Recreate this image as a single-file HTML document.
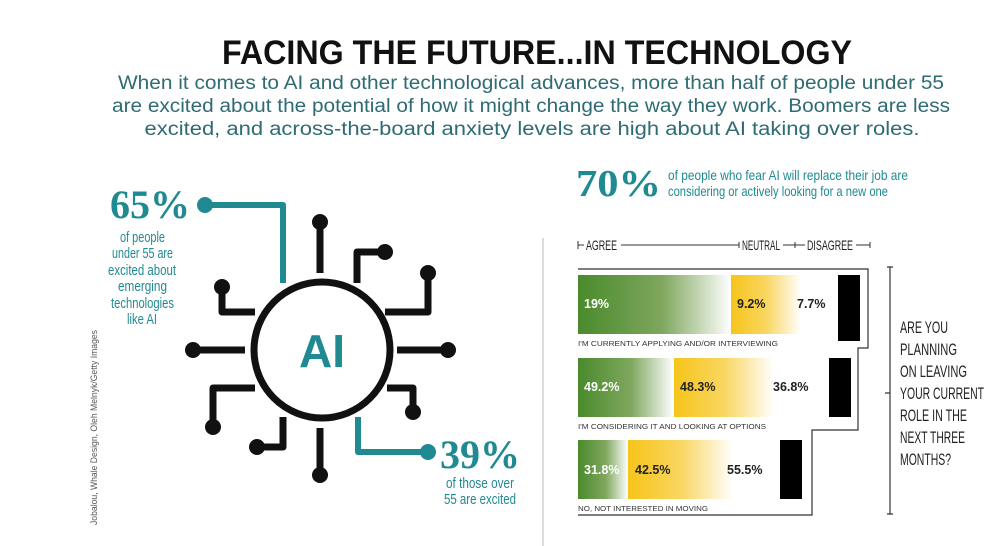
<!DOCTYPE html>
<html><head><meta charset="utf-8"><style>
html,body{margin:0;padding:0;background:#fff}
svg{display:block}
.n{font-family:"Liberation Sans",sans-serif}
</style></head><body>
<svg width="1000" height="546" viewBox="0 0 1000 546" xmlns="http://www.w3.org/2000/svg">
<defs>
<linearGradient id="g" x1="0" x2="1"><stop offset="0" stop-color="#4a8a2c"/><stop offset="0.55" stop-color="#7fa75e"/><stop offset="1" stop-color="#fff"/></linearGradient>
<linearGradient id="y" x1="0" x2="1"><stop offset="0" stop-color="#f6c41a"/><stop offset="0.5" stop-color="#f9d660"/><stop offset="1" stop-color="#fff"/></linearGradient>
</defs>
<text x="537" y="64" text-anchor="middle" font-family="Liberation Sans,sans-serif" font-weight="bold" font-size="34" textLength="630" lengthAdjust="spacingAndGlyphs" fill="#111">FACING THE FUTURE...IN TECHNOLOGY</text>
<g font-family="Liberation Sans,sans-serif" font-size="19" fill="#2e6b73" text-anchor="middle">
<text x="531" y="89" textLength="826" lengthAdjust="spacingAndGlyphs">When it comes to AI and other technological advances, more than half of people under 55</text>
<text x="531" y="112" textLength="838" lengthAdjust="spacingAndGlyphs">are excited about the potential of how it might change the way they work. Boomers are less</text>
<text x="532" y="135" textLength="775" lengthAdjust="spacingAndGlyphs">excited, and across-the-board anxiety levels are high about AI taking over roles.</text>
</g>
<g stroke="#111" stroke-width="7" fill="none" stroke-linejoin="round">
<circle cx="322" cy="350" r="68"/>
<path d="M320 222V273M193 350H245M397 350H448M320 428V475"/>
<path d="M222 287V312H255M357 283V252H385M428 273V312H385"/>
<path d="M255 388H213V427M283 417V447H257M387 388H413V412"/>
</g>
<g fill="#111">
<circle cx="320" cy="222" r="8"/><circle cx="193" cy="350" r="8"/><circle cx="448" cy="350" r="8"/><circle cx="320" cy="475" r="8"/>
<circle cx="222" cy="287" r="8"/><circle cx="385" cy="252" r="8"/><circle cx="428" cy="273" r="8"/>
<circle cx="213" cy="427" r="8"/><circle cx="257" cy="447" r="8"/><circle cx="413" cy="412" r="8"/>
</g>
<g stroke="#1f8a91" stroke-width="6" fill="none" stroke-linejoin="round">
<path d="M205 205H283V283M358 417V452H428"/>
</g>
<g fill="#1f8a91"><circle cx="205" cy="205" r="8"/><circle cx="428" cy="452" r="8"/></g>
<text x="322" y="367" text-anchor="middle" font-family="Liberation Sans,sans-serif" font-weight="bold" font-size="46" fill="#1f8a91">AI</text>
<text x="110" y="218" font-family="Liberation Serif,serif" font-weight="bold" font-size="40" fill="#1f8a91" textLength="80" lengthAdjust="spacingAndGlyphs">65%</text>
<g class="n" font-size="15" fill="#1f8a91" lengthAdjust="spacingAndGlyphs">
<text x="120" y="242" textLength="45" lengthAdjust="spacingAndGlyphs">of people</text>
<text x="112" y="258" textLength="61" lengthAdjust="spacingAndGlyphs">under 55 are</text>
<text x="108" y="275" textLength="68" lengthAdjust="spacingAndGlyphs">excited about</text>
<text x="118" y="291" textLength="49" lengthAdjust="spacingAndGlyphs">emerging</text>
<text x="111" y="308" textLength="63" lengthAdjust="spacingAndGlyphs">technologies</text>
<text x="127" y="324" textLength="30" lengthAdjust="spacingAndGlyphs">like AI</text>
<text x="446" y="488" textLength="68" lengthAdjust="spacingAndGlyphs">of those over</text>
<text x="444" y="504" textLength="72" lengthAdjust="spacingAndGlyphs">55 are excited</text>
</g>
<text x="440" y="468" font-family="Liberation Serif,serif" font-weight="bold" font-size="40" fill="#1f8a91" textLength="80" lengthAdjust="spacingAndGlyphs">39%</text>
<text transform="translate(97,525) rotate(-90)" font-family="Liberation Sans,sans-serif" font-size="9" fill="#555" textLength="195" lengthAdjust="spacingAndGlyphs">Jobalou, Whale Design, Oleh Melnyk/Getty Images</text>
<line x1="543" y1="238" x2="543" y2="546" stroke="#bbb" stroke-width="1"/>
<text x="576" y="196" font-family="Liberation Serif,serif" font-weight="bold" font-size="38" fill="#1f8a91" textLength="85" lengthAdjust="spacingAndGlyphs">70%</text>
<g class="n" font-size="14" fill="#1f8a91">
<text x="668" y="180" textLength="240" lengthAdjust="spacingAndGlyphs">of people who fear AI will replace their job are</text>
<text x="668" y="196" textLength="220" lengthAdjust="spacingAndGlyphs">considering or actively looking for a new one</text>
</g>
<g stroke="#333" stroke-width="1">
<path d="M578 245H584M578 241V249M621 245H739M739 242V248M783 245H805M795 242V248M856 245H870M870 242V248"/>
</g>
<g class="n" font-size="14" fill="#222">
<text x="586" y="250" textLength="31" lengthAdjust="spacingAndGlyphs">AGREE</text>
<text x="742" y="250" textLength="38" lengthAdjust="spacingAndGlyphs">NEUTRAL</text>
<text x="807" y="250" textLength="46" lengthAdjust="spacingAndGlyphs">DISAGREE</text>
</g>
<path d="M578 269H868V348H858V430H812V515H578" fill="none" stroke="#333" stroke-width="1.2"/>
<rect x="578" y="275" width="153" height="59" fill="url(#g)"/>
<rect x="731" y="275" width="70" height="59" fill="url(#y)"/>
<rect x="838" y="275" width="22" height="66" fill="#000"/>
<rect x="578" y="358" width="96" height="59" fill="url(#g)"/>
<rect x="674" y="358" width="100" height="59" fill="url(#y)"/>
<rect x="829" y="358" width="22" height="59" fill="#000"/>
<rect x="578" y="440" width="50" height="59" fill="url(#g)"/>
<rect x="628" y="440" width="105" height="59" fill="url(#y)"/>
<rect x="780" y="440" width="22" height="59" fill="#000"/>
<g font-family="Liberation Sans,sans-serif" font-weight="bold" font-size="12.5">
<text x="584" y="308" fill="#fff">19%</text><text x="737" y="308" fill="#222">9.2%</text><text x="797" y="308" fill="#222">7.7%</text>
<text x="584" y="391" fill="#fff">49.2%</text><text x="680" y="391" fill="#222">48.3%</text><text x="773" y="391" fill="#222">36.8%</text>
<text x="584" y="474" fill="#fff">31.8%</text><text x="635" y="474" fill="#222">42.5%</text><text x="727" y="474" fill="#222">55.5%</text>
</g>
<g font-family="Liberation Sans,sans-serif" font-size="7" fill="#333">
<text x="578" y="346" textLength="200" lengthAdjust="spacingAndGlyphs">I'M CURRENTLY APPLYING AND/OR INTERVIEWING</text>
<text x="578" y="429" textLength="188" lengthAdjust="spacingAndGlyphs">I'M CONSIDERING IT AND LOOKING AT OPTIONS</text>
<text x="578" y="511" textLength="130" lengthAdjust="spacingAndGlyphs">NO, NOT INTERESTED IN MOVING</text>
</g>
<path d="M887 267H893M890 267V514M887 514H893M885 393H890" stroke="#333" stroke-width="1.2" fill="none"/>
<g class="n" font-size="17" fill="#222">
<text x="900" y="333" textLength="48" lengthAdjust="spacingAndGlyphs">ARE YOU</text>
<text x="900" y="355" textLength="57" lengthAdjust="spacingAndGlyphs">PLANNING</text>
<text x="900" y="377" textLength="67" lengthAdjust="spacingAndGlyphs">ON LEAVING</text>
<text x="900" y="399" textLength="84" lengthAdjust="spacingAndGlyphs">YOUR CURRENT</text>
<text x="900" y="421" textLength="67" lengthAdjust="spacingAndGlyphs">ROLE IN THE</text>
<text x="900" y="443" textLength="65" lengthAdjust="spacingAndGlyphs">NEXT THREE</text>
<text x="900" y="465" textLength="51" lengthAdjust="spacingAndGlyphs">MONTHS?</text>
</g>
</svg>
</body></html>
